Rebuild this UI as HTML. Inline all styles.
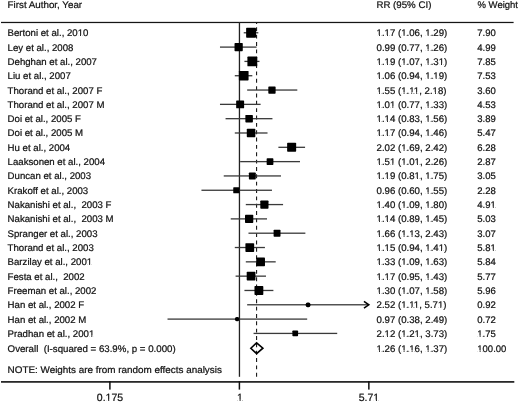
<!DOCTYPE html>
<html><head><meta charset="utf-8"><style>
html,body{margin:0;padding:0;background:#fff;}
body{width:520px;height:402px;overflow:hidden;}
svg{display:block;will-change:transform;}
text{text-rendering:geometricPrecision;stroke:#111;stroke-width:0.22px;font-family:"Liberation Sans",sans-serif;font-size:9.65px;fill:#111;}
</style></head><body>
<svg width="520" height="402" viewBox="0 0 520 402">
<rect width="520" height="402" fill="#fff"/>

<text x="7.6" y="7.6" textLength="74.5" lengthAdjust="spacingAndGlyphs">First Author, Year</text>
<text x="376.4" y="7.6" textLength="55" lengthAdjust="spacingAndGlyphs">RR (95% CI)</text>
<text x="477.5" y="7.6" textLength="40.5" lengthAdjust="spacingAndGlyphs">% Weight</text>
<rect x="1" y="21.85" width="512.6" height="1.25" fill="#151515"/>
<rect x="238.8" y="22" width="1.3" height="354.8" fill="#222"/>
<line x1="256.57" y1="22.6" x2="256.57" y2="376.7" stroke="#1a1a1a" stroke-width="1.1" stroke-dasharray="3.9 3.45" stroke-dashoffset="2.6"/>
<text x="7.6" y="36.28">Bertoni et al., 2010</text>
<text x="376.6" y="36.28">1.17 (1.06, 1.29)</text>
<text x="477.3" y="36.28" style="font-size:9.5px">7.90</text>
<rect x="243.73" y="32.13" width="14.59" height="1.3" fill="#3a3a3a"/>
<rect x="246.13" y="27.85" width="9.87" height="9.87" rx="0.7" fill="#000"/>
<text x="7.6" y="50.6">Ley et al., 2008</text>
<text x="376.6" y="50.6">0.99 (0.77, 1.26)</text>
<text x="477.3" y="50.6" style="font-size:9.5px">4.99</text>
<rect x="219.98" y="46.45" width="36.59" height="1.3" fill="#3a3a3a"/>
<rect x="234.53" y="42.97" width="8.25" height="8.25" rx="0.7" fill="#000"/>
<text x="7.6" y="64.91">Dehghan et al., 2007</text>
<text x="376.6" y="64.91">1.19 (1.07, 1.31)</text>
<text x="477.3" y="64.91" style="font-size:9.5px">7.85</text>
<rect x="244.43" y="60.76" width="15.04" height="1.3" fill="#3a3a3a"/>
<rect x="247.4" y="56.49" width="9.84" height="9.84" rx="0.7" fill="#000"/>
<text x="7.6" y="79.23">Liu et al., 2007</text>
<text x="376.6" y="79.23">1.06 (0.94, 1.19)</text>
<text x="477.3" y="79.23" style="font-size:9.5px">7.53</text>
<rect x="234.8" y="75.08" width="17.52" height="1.3" fill="#3a3a3a"/>
<rect x="238.89" y="70.89" width="9.68" height="9.68" rx="0.7" fill="#000"/>
<text x="7.6" y="93.54">Thorand et al., 2007 F</text>
<text x="376.6" y="93.54">1.55 (1.11, 2.18)</text>
<text x="477.3" y="93.54" style="font-size:9.5px">3.60</text>
<rect x="247.15" y="89.39" width="50.15" height="1.3" fill="#3a3a3a"/>
<rect x="268.31" y="86.39" width="7.31" height="7.31" rx="0.7" fill="#000"/>
<text x="7.6" y="107.86">Thorand et al., 2007 M</text>
<text x="376.6" y="107.86">1.01 (0.77, 1.33)</text>
<text x="477.3" y="107.86" style="font-size:9.5px">4.53</text>
<rect x="219.98" y="103.71" width="40.61" height="1.3" fill="#3a3a3a"/>
<rect x="236.16" y="100.38" width="7.96" height="7.96" rx="0.7" fill="#000"/>
<text x="7.6" y="122.18">Doi et al., 2005 F</text>
<text x="376.6" y="122.18">1.14 (0.83, 1.56)</text>
<text x="477.3" y="122.18" style="font-size:9.5px">3.89</text>
<rect x="225.56" y="118.03" width="46.88" height="1.3" fill="#3a3a3a"/>
<rect x="245.37" y="114.91" width="7.52" height="7.52" rx="0.7" fill="#000"/>
<text x="7.6" y="136.49">Doi et al., 2005 M</text>
<text x="376.6" y="136.49">1.17 (0.94, 1.46)</text>
<text x="477.3" y="136.49" style="font-size:9.5px">5.47</text>
<rect x="234.8" y="132.34" width="32.72" height="1.3" fill="#3a3a3a"/>
<rect x="246.79" y="128.72" width="8.55" height="8.55" rx="0.7" fill="#000"/>
<text x="7.6" y="150.81">Hu et al., 2004</text>
<text x="376.6" y="150.81">2.02 (1.69, 2.42)</text>
<text x="477.3" y="150.81" style="font-size:9.5px">6.28</text>
<rect x="278.39" y="146.66" width="26.68" height="1.3" fill="#3a3a3a"/>
<rect x="287.13" y="142.8" width="9.02" height="9.02" rx="0.7" fill="#000"/>
<text x="7.6" y="165.12">Laaksonen et al., 2004</text>
<text x="376.6" y="165.12">1.51 (1.01, 2.26)</text>
<text x="477.3" y="165.12" style="font-size:9.5px">2.87</text>
<rect x="240.14" y="160.97" width="59.84" height="1.3" fill="#3a3a3a"/>
<rect x="266.65" y="158.25" width="6.74" height="6.74" rx="0.7" fill="#000"/>
<text x="7.6" y="179.44">Duncan et al., 2003</text>
<text x="376.6" y="179.44">1.19 (0.81, 1.75)</text>
<text x="477.3" y="179.44" style="font-size:9.5px">3.05</text>
<rect x="223.74" y="175.29" width="57.24" height="1.3" fill="#3a3a3a"/>
<rect x="248.88" y="172.5" width="6.89" height="6.89" rx="0.7" fill="#000"/>
<text x="7.6" y="193.76">Krakoff et al., 2003</text>
<text x="376.6" y="193.76">0.96 (0.60, 1.55)</text>
<text x="477.3" y="193.76" style="font-size:9.5px">2.28</text>
<rect x="201.45" y="189.61" width="70.52" height="1.3" fill="#3a3a3a"/>
<rect x="233.25" y="187.14" width="6.23" height="6.23" rx="0.7" fill="#000"/>
<text x="7.6" y="208.07">Nakanishi et al.,&#160; 2003 F</text>
<text x="376.6" y="208.07">1.40 (1.09, 1.80)</text>
<text x="477.3" y="208.07" style="font-size:9.5px">4.91</text>
<rect x="245.8" y="203.92" width="37.27" height="1.3" fill="#3a3a3a"/>
<rect x="260.3" y="200.47" width="8.2" height="8.2" rx="0.7" fill="#000"/>
<text x="7.6" y="222.39">Nakanishi et al.,&#160; 2003 M</text>
<text x="376.6" y="222.39">1.14 (0.89, 1.45)</text>
<text x="477.3" y="222.39" style="font-size:9.5px">5.03</text>
<rect x="230.74" y="218.24" width="36.27" height="1.3" fill="#3a3a3a"/>
<rect x="245" y="214.75" width="8.28" height="8.28" rx="0.7" fill="#000"/>
<text x="7.6" y="236.7">Spranger et al., 2003</text>
<text x="376.6" y="236.7">1.66 (1.13, 2.43)</text>
<text x="477.3" y="236.7" style="font-size:9.5px">3.07</text>
<rect x="248.48" y="232.55" width="56.89" height="1.3" fill="#3a3a3a"/>
<rect x="273.6" y="229.75" width="6.91" height="6.91" rx="0.7" fill="#000"/>
<text x="7.6" y="251.02">Thorand et al., 2003</text>
<text x="376.6" y="251.02">1.15 (0.94, 1.41)</text>
<text x="477.3" y="251.02" style="font-size:9.5px">5.81</text>
<rect x="234.8" y="246.87" width="30.13" height="1.3" fill="#3a3a3a"/>
<rect x="245.41" y="243.15" width="8.75" height="8.75" rx="0.7" fill="#000"/>
<text x="7.6" y="265.34">Barzilay et al., 2001</text>
<text x="376.6" y="265.34">1.33 (1.09, 1.63)</text>
<text x="477.3" y="265.34" style="font-size:9.5px">5.84</text>
<rect x="245.8" y="261.19" width="29.9" height="1.3" fill="#3a3a3a"/>
<rect x="256.21" y="257.45" width="8.77" height="8.77" rx="0.7" fill="#000"/>
<text x="7.6" y="279.65">Festa et al.,&#160; 2002</text>
<text x="376.6" y="279.65">1.17 (0.95, 1.43)</text>
<text x="477.3" y="279.65" style="font-size:9.5px">5.77</text>
<rect x="235.59" y="275.5" width="30.39" height="1.3" fill="#3a3a3a"/>
<rect x="246.7" y="271.79" width="8.73" height="8.73" rx="0.7" fill="#000"/>
<text x="7.6" y="293.97">Freeman et al., 2002</text>
<text x="376.6" y="293.97">1.30 (1.07, 1.58)</text>
<text x="477.3" y="293.97" style="font-size:9.5px">5.96</text>
<rect x="244.43" y="289.82" width="28.96" height="1.3" fill="#3a3a3a"/>
<rect x="254.48" y="286.05" width="8.84" height="8.84" rx="0.7" fill="#000"/>
<text x="7.6" y="308.28">Han et al., 2002 F</text>
<text x="376.6" y="308.28">2.52 (1.11, 5.71)</text>
<text x="477.3" y="308.28" style="font-size:9.5px">0.92</text>
<rect x="247.15" y="304.13" width="120.89" height="1.3" fill="#3a3a3a"/>
<rect x="305.73" y="302.44" width="4.69" height="4.69" rx="1.87" fill="#000"/>
<text x="7.6" y="322.6">Han et al., 2002 M</text>
<text x="376.6" y="322.6">0.97 (0.38, 2.49)</text>
<text x="477.3" y="322.6" style="font-size:9.5px">0.72</text>
<rect x="167.51" y="318.45" width="139.67" height="1.3" fill="#3a3a3a"/>
<rect x="234.95" y="316.91" width="4.38" height="4.38" rx="1.75" fill="#000"/>
<text x="7.6" y="336.92">Pradhan et al., 2001</text>
<text x="376.6" y="336.92">2.12 (1.21, 3.73)</text>
<text x="477.3" y="336.92" style="font-size:9.5px">1.75</text>
<rect x="253.56" y="332.77" width="83.65" height="1.3" fill="#3a3a3a"/>
<rect x="292.38" y="330.56" width="5.7" height="5.7" rx="0.7" fill="#000"/>
<polyline points="363.95,301.38 368.85,304.78 363.95,308.18" fill="none" stroke="#000" stroke-width="1.5" stroke-linejoin="miter"/>
<text x="7.6" y="351.53" textLength="168.1" lengthAdjust="spacingAndGlyphs">Overall&#160; (I-squared = 63.9%, p = 0.000)</text>
<text x="376.6" y="351.53">1.26 (1.16, 1.37)</text>
<text x="477.3" y="351.53" style="font-size:9.5px">100.00</text>
<polygon points="250.83,348.23 256.57,342.83 262.89,348.23 256.57,353.63" fill="none" stroke="#000" stroke-width="1.6"/>
<text x="7.6" y="373.1" textLength="214.3" lengthAdjust="spacingAndGlyphs">NOTE: Weights are from random effects analysis</text>
<rect x="1" y="381.1" width="513.3" height="1.6" fill="#111"/>
<rect x="109.15" y="381" width="1.5" height="8.6" fill="#111"/>
<text x="110" y="401.1" text-anchor="middle" style="font-size:10.5px">0.175</text>
<rect x="238.65" y="381" width="1.5" height="8.6" fill="#111"/>
<text x="239.9" y="401.1" text-anchor="middle" style="font-size:10.5px">1</text>
<rect x="368.1" y="381" width="1.5" height="8.6" fill="#111"/>
<text x="368.95" y="401.1" text-anchor="middle" style="font-size:10.5px">5.71</text>
<g><rect x="78.15" y="34.88" width="1.91" height="1.9" fill="#fff"/><rect x="81.01" y="34.88" width="1.68" height="1.9" fill="#fff"/><rect x="377.07" y="34.88" width="1.91" height="1.9" fill="#fff"/><rect x="379.92" y="34.88" width="1.67" height="1.9" fill="#fff"/><rect x="385.09" y="34.88" width="1.91" height="1.9" fill="#fff"/><rect x="387.94" y="34.88" width="1.68" height="1.9" fill="#fff"/><rect x="401.68" y="34.88" width="1.91" height="1.9" fill="#fff"/><rect x="404.53" y="34.88" width="1.67" height="1.9" fill="#fff"/><rect x="425.76" y="34.88" width="1.91" height="1.9" fill="#fff"/><rect x="428.6" y="34.88" width="1.67" height="1.9" fill="#fff"/><rect x="425.76" y="49.2" width="1.91" height="1.9" fill="#fff"/><rect x="428.6" y="49.2" width="1.67" height="1.9" fill="#fff"/><rect x="377.07" y="63.51" width="1.91" height="1.9" fill="#fff"/><rect x="379.92" y="63.51" width="1.67" height="1.9" fill="#fff"/><rect x="385.09" y="63.51" width="1.91" height="1.9" fill="#fff"/><rect x="387.94" y="63.51" width="1.68" height="1.9" fill="#fff"/><rect x="401.68" y="63.51" width="1.91" height="1.9" fill="#fff"/><rect x="404.53" y="63.51" width="1.67" height="1.9" fill="#fff"/><rect x="425.76" y="63.51" width="1.91" height="1.9" fill="#fff"/><rect x="428.6" y="63.51" width="1.67" height="1.9" fill="#fff"/><rect x="439.13" y="63.51" width="1.91" height="1.9" fill="#fff"/><rect x="441.99" y="63.51" width="1.68" height="1.9" fill="#fff"/><rect x="377.07" y="77.83" width="1.91" height="1.9" fill="#fff"/><rect x="379.92" y="77.83" width="1.67" height="1.9" fill="#fff"/><rect x="425.76" y="77.83" width="1.91" height="1.9" fill="#fff"/><rect x="428.6" y="77.83" width="1.67" height="1.9" fill="#fff"/><rect x="433.79" y="77.83" width="1.91" height="1.9" fill="#fff"/><rect x="436.64" y="77.83" width="1.67" height="1.9" fill="#fff"/><rect x="377.07" y="92.14" width="1.91" height="1.9" fill="#fff"/><rect x="379.92" y="92.14" width="1.67" height="1.9" fill="#fff"/><rect x="401.68" y="92.14" width="1.91" height="1.9" fill="#fff"/><rect x="404.53" y="92.14" width="1.67" height="1.9" fill="#fff"/><rect x="409.63" y="92.14" width="1.66" height="1.9" fill="#fff"/><rect x="412.11" y="92.14" width="1.45" height="1.9" fill="#fff"/><rect x="414.34" y="92.14" width="1.91" height="1.9" fill="#fff"/><rect x="417.19" y="92.14" width="1.68" height="1.9" fill="#fff"/><rect x="433.07" y="92.14" width="1.91" height="1.9" fill="#fff"/><rect x="435.92" y="92.14" width="1.67" height="1.9" fill="#fff"/><rect x="377.07" y="106.46" width="1.91" height="1.9" fill="#fff"/><rect x="379.92" y="106.46" width="1.67" height="1.9" fill="#fff"/><rect x="390.45" y="106.46" width="1.91" height="1.9" fill="#fff"/><rect x="393.29" y="106.46" width="1.67" height="1.9" fill="#fff"/><rect x="425.76" y="106.46" width="1.91" height="1.9" fill="#fff"/><rect x="428.6" y="106.46" width="1.67" height="1.9" fill="#fff"/><rect x="377.07" y="120.78" width="1.91" height="1.9" fill="#fff"/><rect x="379.92" y="120.78" width="1.67" height="1.9" fill="#fff"/><rect x="385.09" y="120.78" width="1.91" height="1.9" fill="#fff"/><rect x="387.94" y="120.78" width="1.68" height="1.9" fill="#fff"/><rect x="425.76" y="120.78" width="1.91" height="1.9" fill="#fff"/><rect x="428.6" y="120.78" width="1.67" height="1.9" fill="#fff"/><rect x="377.07" y="135.09" width="1.91" height="1.9" fill="#fff"/><rect x="379.92" y="135.09" width="1.67" height="1.9" fill="#fff"/><rect x="385.09" y="135.09" width="1.91" height="1.9" fill="#fff"/><rect x="387.94" y="135.09" width="1.68" height="1.9" fill="#fff"/><rect x="425.76" y="135.09" width="1.91" height="1.9" fill="#fff"/><rect x="428.6" y="135.09" width="1.67" height="1.9" fill="#fff"/><rect x="401.68" y="149.41" width="1.91" height="1.9" fill="#fff"/><rect x="404.53" y="149.41" width="1.67" height="1.9" fill="#fff"/><rect x="377.07" y="163.72" width="1.91" height="1.9" fill="#fff"/><rect x="379.92" y="163.72" width="1.67" height="1.9" fill="#fff"/><rect x="390.45" y="163.72" width="1.91" height="1.9" fill="#fff"/><rect x="393.29" y="163.72" width="1.67" height="1.9" fill="#fff"/><rect x="401.68" y="163.72" width="1.91" height="1.9" fill="#fff"/><rect x="404.53" y="163.72" width="1.67" height="1.9" fill="#fff"/><rect x="415.06" y="163.72" width="1.91" height="1.9" fill="#fff"/><rect x="417.91" y="163.72" width="1.68" height="1.9" fill="#fff"/><rect x="377.07" y="178.04" width="1.91" height="1.9" fill="#fff"/><rect x="379.92" y="178.04" width="1.67" height="1.9" fill="#fff"/><rect x="385.09" y="178.04" width="1.91" height="1.9" fill="#fff"/><rect x="387.94" y="178.04" width="1.68" height="1.9" fill="#fff"/><rect x="415.06" y="178.04" width="1.91" height="1.9" fill="#fff"/><rect x="417.91" y="178.04" width="1.68" height="1.9" fill="#fff"/><rect x="425.76" y="178.04" width="1.91" height="1.9" fill="#fff"/><rect x="428.6" y="178.04" width="1.67" height="1.9" fill="#fff"/><rect x="425.76" y="192.36" width="1.91" height="1.9" fill="#fff"/><rect x="428.6" y="192.36" width="1.67" height="1.9" fill="#fff"/><rect x="377.07" y="206.67" width="1.91" height="1.9" fill="#fff"/><rect x="379.92" y="206.67" width="1.67" height="1.9" fill="#fff"/><rect x="401.68" y="206.67" width="1.91" height="1.9" fill="#fff"/><rect x="404.53" y="206.67" width="1.67" height="1.9" fill="#fff"/><rect x="425.76" y="206.67" width="1.91" height="1.9" fill="#fff"/><rect x="428.6" y="206.67" width="1.67" height="1.9" fill="#fff"/><rect x="490.97" y="206.68" width="1.88" height="1.89" fill="#fff"/><rect x="493.78" y="206.68" width="1.65" height="1.89" fill="#fff"/><rect x="377.07" y="220.99" width="1.91" height="1.9" fill="#fff"/><rect x="379.92" y="220.99" width="1.67" height="1.9" fill="#fff"/><rect x="385.09" y="220.99" width="1.91" height="1.9" fill="#fff"/><rect x="387.94" y="220.99" width="1.68" height="1.9" fill="#fff"/><rect x="425.76" y="220.99" width="1.91" height="1.9" fill="#fff"/><rect x="428.6" y="220.99" width="1.67" height="1.9" fill="#fff"/><rect x="377.07" y="235.3" width="1.91" height="1.9" fill="#fff"/><rect x="379.92" y="235.3" width="1.67" height="1.9" fill="#fff"/><rect x="401.68" y="235.3" width="1.91" height="1.9" fill="#fff"/><rect x="404.53" y="235.3" width="1.67" height="1.9" fill="#fff"/><rect x="409.7" y="235.3" width="1.91" height="1.9" fill="#fff"/><rect x="412.55" y="235.3" width="1.68" height="1.9" fill="#fff"/><rect x="377.07" y="249.62" width="1.91" height="1.9" fill="#fff"/><rect x="379.92" y="249.62" width="1.67" height="1.9" fill="#fff"/><rect x="385.09" y="249.62" width="1.91" height="1.9" fill="#fff"/><rect x="387.94" y="249.62" width="1.68" height="1.9" fill="#fff"/><rect x="425.76" y="249.62" width="1.91" height="1.9" fill="#fff"/><rect x="428.6" y="249.62" width="1.67" height="1.9" fill="#fff"/><rect x="439.13" y="249.62" width="1.91" height="1.9" fill="#fff"/><rect x="441.99" y="249.62" width="1.68" height="1.9" fill="#fff"/><rect x="490.97" y="249.63" width="1.88" height="1.89" fill="#fff"/><rect x="493.78" y="249.63" width="1.65" height="1.89" fill="#fff"/><rect x="87.24" y="263.94" width="1.91" height="1.9" fill="#fff"/><rect x="90.1" y="263.94" width="1.68" height="1.9" fill="#fff"/><rect x="377.07" y="263.94" width="1.91" height="1.9" fill="#fff"/><rect x="379.92" y="263.94" width="1.67" height="1.9" fill="#fff"/><rect x="401.68" y="263.94" width="1.91" height="1.9" fill="#fff"/><rect x="404.53" y="263.94" width="1.67" height="1.9" fill="#fff"/><rect x="425.76" y="263.94" width="1.91" height="1.9" fill="#fff"/><rect x="428.6" y="263.94" width="1.67" height="1.9" fill="#fff"/><rect x="377.07" y="278.25" width="1.91" height="1.9" fill="#fff"/><rect x="379.92" y="278.25" width="1.67" height="1.9" fill="#fff"/><rect x="385.09" y="278.25" width="1.91" height="1.9" fill="#fff"/><rect x="387.94" y="278.25" width="1.68" height="1.9" fill="#fff"/><rect x="425.76" y="278.25" width="1.91" height="1.9" fill="#fff"/><rect x="428.6" y="278.25" width="1.67" height="1.9" fill="#fff"/><rect x="377.07" y="292.57" width="1.91" height="1.9" fill="#fff"/><rect x="379.92" y="292.57" width="1.67" height="1.9" fill="#fff"/><rect x="401.68" y="292.57" width="1.91" height="1.9" fill="#fff"/><rect x="404.53" y="292.57" width="1.67" height="1.9" fill="#fff"/><rect x="425.76" y="292.57" width="1.91" height="1.9" fill="#fff"/><rect x="428.6" y="292.57" width="1.67" height="1.9" fill="#fff"/><rect x="401.68" y="306.88" width="1.91" height="1.9" fill="#fff"/><rect x="404.53" y="306.88" width="1.67" height="1.9" fill="#fff"/><rect x="409.63" y="306.88" width="1.66" height="1.9" fill="#fff"/><rect x="412.11" y="306.88" width="1.45" height="1.9" fill="#fff"/><rect x="414.34" y="306.88" width="1.91" height="1.9" fill="#fff"/><rect x="417.19" y="306.88" width="1.68" height="1.9" fill="#fff"/><rect x="438.42" y="306.88" width="1.91" height="1.9" fill="#fff"/><rect x="441.27" y="306.88" width="1.68" height="1.9" fill="#fff"/><rect x="89.4" y="335.52" width="1.91" height="1.9" fill="#fff"/><rect x="92.26" y="335.52" width="1.68" height="1.9" fill="#fff"/><rect x="385.09" y="335.52" width="1.91" height="1.9" fill="#fff"/><rect x="387.94" y="335.52" width="1.68" height="1.9" fill="#fff"/><rect x="401.68" y="335.52" width="1.91" height="1.9" fill="#fff"/><rect x="404.53" y="335.52" width="1.67" height="1.9" fill="#fff"/><rect x="415.06" y="335.52" width="1.91" height="1.9" fill="#fff"/><rect x="417.91" y="335.52" width="1.68" height="1.9" fill="#fff"/><rect x="477.77" y="335.53" width="1.88" height="1.89" fill="#fff"/><rect x="480.58" y="335.53" width="1.65" height="1.89" fill="#fff"/><rect x="377.07" y="350.13" width="1.91" height="1.9" fill="#fff"/><rect x="379.92" y="350.13" width="1.67" height="1.9" fill="#fff"/><rect x="401.68" y="350.13" width="1.91" height="1.9" fill="#fff"/><rect x="404.53" y="350.13" width="1.67" height="1.9" fill="#fff"/><rect x="409.7" y="350.13" width="1.91" height="1.9" fill="#fff"/><rect x="412.55" y="350.13" width="1.68" height="1.9" fill="#fff"/><rect x="425.76" y="350.13" width="1.91" height="1.9" fill="#fff"/><rect x="428.6" y="350.13" width="1.67" height="1.9" fill="#fff"/><rect x="477.77" y="350.14" width="1.88" height="1.89" fill="#fff"/><rect x="480.58" y="350.14" width="1.65" height="1.89" fill="#fff"/><rect x="106.12" y="399.63" width="2.08" height="1.97" fill="#fff"/><rect x="109.24" y="399.63" width="1.83" height="1.97" fill="#fff"/><rect x="237.49" y="399.63" width="2.08" height="1.97" fill="#fff"/><rect x="240.6" y="399.63" width="1.82" height="1.97" fill="#fff"/><rect x="373.84" y="399.63" width="2.08" height="1.97" fill="#fff"/><rect x="376.94" y="399.63" width="1.82" height="1.97" fill="#fff"/></g>
</svg></body></html>
